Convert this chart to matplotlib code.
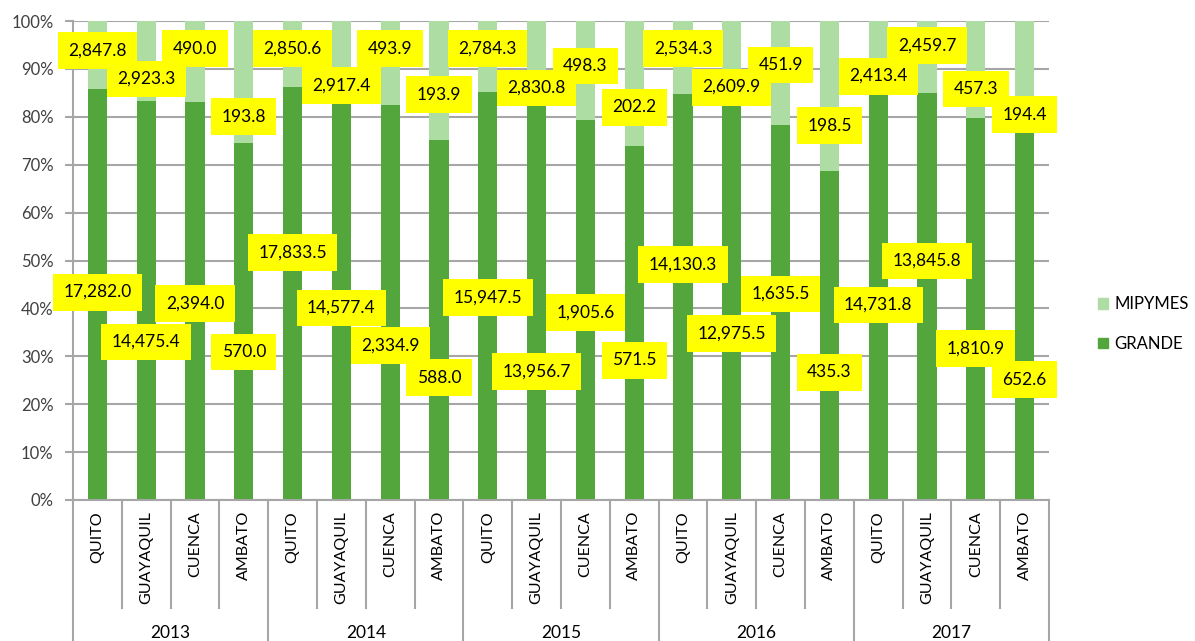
import numpy as np
import matplotlib
matplotlib.use("Agg")
import matplotlib.pyplot as plt
from matplotlib.patches import Patch
from matplotlib.ticker import PercentFormatter

plt.rcParams["font.family"] = ["Lato", "DejaVu Sans"]

YEARS = ["2013", "2014", "2015", "2016", "2017"]
CITIES = ["QUITO", "GUAYAQUIL", "CUENCA", "AMBATO"]

# values per bar, order: year by year, city by city
GRANDE = [17282.0, 14475.4, 2394.0, 570.0,
          17833.5, 14577.4, 2334.9, 588.0,
          15947.5, 13956.7, 1905.6, 571.5,
          14130.3, 12975.5, 1635.5, 435.3,
          14731.8, 13845.8, 1810.9, 652.6]
MIPYMES = [2847.8, 2923.3, 490.0, 193.8,
           2850.6, 2917.4, 493.9, 193.9,
           2784.3, 2830.8, 498.3, 202.2,
           2534.3, 2609.9, 451.9, 198.5,
           2413.4, 2459.7, 457.3, 194.4]

# where the (hand-placed) data labels sit, in % of the bar height
LBL_Y_GRANDE = [43.4, 33.0, 41.1, 30.9,
                51.6, 40.1, 32.2, 25.5,
                42.2, 26.9, 39.2, 29.2,
                49.1, 34.7, 43.0, 26.7,
                40.7, 49.9, 31.7, 25.1]
LBL_Y_MIPYMES = [93.9, 87.9, 94.2, 80.0,
                 94.2, 86.6, 94.2, 84.6,
                 94.2, 86.0, 90.6, 82.0,
                 94.2, 86.2, 90.8, 78.1,
                 88.5, 94.8, 85.8, 80.4]

C_GRANDE = "#53A63B"
C_MIPYMES = "#AEDDA3"
C_GRID = "#A6A6A6"
C_TXT = "#404040"

grande = np.array(GRANDE)
mipymes = np.array(MIPYMES)
total = grande + mipymes
pct_g = grande / total * 100
pct_m = mipymes / total * 100
x = np.arange(len(GRANDE))
n = len(x)

fig = plt.figure(figsize=(11.95, 6.41), dpi=100)
ax = fig.add_axes([73 / 1195, 1 - 500 / 641, (1049 - 73) / 1195, 479 / 641])

ax.bar(x, pct_g, width=0.39, color=C_GRANDE, zorder=2)
ax.bar(x, pct_m, width=0.39, bottom=pct_g, color=C_MIPYMES, zorder=2)

# yellow boxes first, then all the numbers above them, so overlapping
# boxes never hide a neighbour's text
box = dict(boxstyle="square,pad=0.6", fc="#FFFF00", ec="none")
for vals, ys in [(GRANDE, LBL_Y_GRANDE), (MIPYMES, LBL_Y_MIPYMES)]:
    for i in range(n):
        s = f"{vals[i]:,.1f}"
        ax.text(x[i], ys[i], s, ha="center", va="center", fontsize=12.5,
                color="none", bbox=box, zorder=5)
        ax.text(x[i], ys[i], s, ha="center", va="center", fontsize=12.5,
                color="black", zorder=6)

ax.set_xlim(-0.5, n - 0.5)
ax.set_ylim(0, 100)
ax.set_yticks(np.arange(0, 101, 10))
ax.yaxis.set_major_formatter(PercentFormatter(decimals=0))
ax.grid(axis="y", color=C_GRID, lw=1.5, zorder=0)
ax.tick_params(axis="y", length=6, width=1.5, color=C_GRID, labelsize=12,
               labelcolor=C_TXT, pad=8)
ax.set_xticks([])
for s in ["top", "right"]:
    ax.spines[s].set_visible(False)
for s in ["left", "bottom"]:
    ax.spines[s].set_color(C_GRID)
    ax.spines[s].set_linewidth(1.5)

# two-level category axis
trans = ax.get_xaxis_transform()
for i in range(n):
    ax.text(x[i], -0.023, CITIES[i % 4], rotation=90, ha="center", va="top",
            fontsize=11.5, color="black", transform=trans)
for b in np.arange(-0.5, n, 1.0):
    low = -0.294 if (b + 0.5) % 4 == 0 else -0.2255
    ax.plot([b, b], [0, low], color=C_GRID, lw=1.5, transform=trans, clip_on=False)
for g, yr in enumerate(YEARS):
    ax.text(g * 4 + 1.5, -0.278, yr, ha="center", va="center", fontsize=12.5,
            color="black", transform=trans)

handles = [Patch(color=C_MIPYMES, label="MIPYMES"), Patch(color=C_GRANDE, label="GRANDE")]
fig.legend(handles=handles, loc="center left", bbox_to_anchor=(1098 / 1195, 1 - 324 / 641),
           frameon=False, fontsize=12, handlelength=0.6, handleheight=0.6,
           handletextpad=0.4, labelspacing=1.4, borderpad=0, borderaxespad=0)

fig.savefig("out.png", dpi=100)
